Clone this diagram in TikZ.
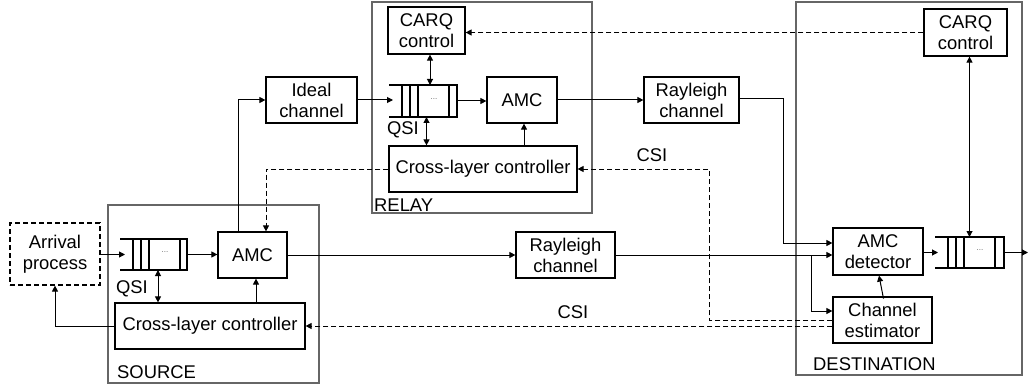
\documentclass[tikz,border=0pt]{standalone}
\usepackage{fontspec}
\setmainfont{Liberation Sans}
\usetikzlibrary{arrows.meta,calc}
\tikzset{
  blk/.style  ={rectangle, draw=black, line width=1.2pt, fill=white, align=center,
                inner sep=0pt, font=\fontsize{18.4}{21}\selectfont},
  dblk/.style ={blk, dashed, dash pattern=on 5pt off 3pt},
  zone/.style ={rectangle, draw=black!60, line width=1.3pt, inner sep=0pt},
  qbox/.style ={rectangle, inner sep=0pt, outer sep=0pt},
  lbl/.style  ={font=\fontsize{18.4}{21}\selectfont, inner sep=0pt},
  arr/.style  ={-{Triangle[length=6pt,width=6pt]}, line width=1pt},
  darr/.style ={arr, dash pattern=on 5pt off 3pt},
  barr/.style ={{Triangle[length=6pt,width=6pt]}-{Triangle[length=6pt,width=6pt]}, line width=1pt},
  ln/.style   ={line width=1pt},
  dln/.style  ={ln, dash pattern=on 5pt off 3pt},
}
% buffer drawn over an empty qbox node
\newcommand{\buffer}[1]{%
  \draw[line width=1.2pt] (#1.north west) -- (#1.north east) -- (#1.south east) -- (#1.south west);
  \foreach \dx in {13,21,29,60}
    \draw[line width=1.2pt] ([xshift=\dx pt]#1.north west) -- ([xshift=\dx pt]#1.south west);
  \node[font=\fontsize{8}{8}\selectfont, text=black!60, inner sep=0pt] at ([xshift=45pt,yshift=2pt]#1.west) {...};
}

\begin{document}
\begin{tikzpicture}[x=1pt, y=-1pt]
  \useasboundingbox (0,0) rectangle (1028,385);

  % zones
  \node[zone, minimum width=211, minimum height=178] (source) at (213.5,294) {};
  \node[zone, minimum width=220, minimum height=211] (relay) at (482,107.5) {};
  \node[zone, minimum width=226, minimum height=373] (dest) at (909,188.5) {};
  \node[lbl, anchor=west] (srclbl) at (117,372) {SOURCE};
  \node[lbl, anchor=west] (rellbl) at (374,205) {RELAY};
  \node[lbl, anchor=west] (dstlbl) at (813,364) {DESTINATION};

  % source
  \node[dblk, minimum width=90, minimum height=62] (arrival) at (55,254) {Arrival\\process};
  \node[qbox, minimum width=67, minimum height=31] (sq) at (153.5,254.5) {};
  \buffer{sq}
  \node[blk, minimum width=69, minimum height=46] (samc) at (252.5,255) {AMC};
  \node[blk, minimum width=190, minimum height=46] (sctl) at (210,326) {Cross-layer controller};
  \node[lbl] (sqsi) at (132,289) {QSI};

  % relay
  \node[blk, minimum width=91, minimum height=46] (ideal) at (311.5,100) {Ideal\\channel};
  \node[blk, minimum width=77, minimum height=47] (rcarq) at (426.5,30.5) {CARQ\\control};
  \node[qbox, minimum width=68, minimum height=32] (rq) at (423,101) {};
  \buffer{rq}
  \node[blk, minimum width=70, minimum height=46] (ramc) at (522,100) {AMC};
  \node[blk, minimum width=188, minimum height=46] (rctl) at (483,169) {Cross-layer controller};
  \node[lbl] (rqsi) at (403,130) {QSI};

  % channels
  \node[blk, minimum width=95, minimum height=46] (ray1) at (691.5,100) {Rayleigh\\channel};
  \node[blk, minimum width=99, minimum height=46] (ray2) at (565.5,255) {Rayleigh\\channel};
  \node[lbl] (csi1) at (652,155) {CSI};
  \node[lbl] (csi2) at (573,312) {CSI};

  % destination
  \node[blk, minimum width=83, minimum height=47] (dcarq) at (965.5,32.5) {CARQ\\control};
  \node[blk, minimum width=90, minimum height=47] (amcd) at (878,251.5) {AMC\\detector};
  \node[blk, minimum width=99, minimum height=46] (chest) at (882.5,320) {Channel\\estimator};
  \node[qbox, minimum width=69, minimum height=31] (dq) at (969.5,252.5) {};
  \buffer{dq}

  \coordinate (tap1) at (783,200);
  \coordinate (tap2) at (811,255);
  \coordinate (cs1) at (709,240);
  \coordinate (out) at (1028,252.5);

  % source links
  \draw[arr] (arrival.east |- sq.west) -- ([xshift=5pt]sq.west);
  \draw[arr] (sq.east) -- (sq.east -| samc.west);
  \draw[barr] ([xshift=4.5pt]sq.south) -- ([xshift=4.5pt]sq.south |- sctl.north);
  \draw[arr] ([xshift=3.5pt]samc.south |- sctl.north) -- ([xshift=3.5pt]samc.south);
  \draw[arr] (sctl.west) -| (arrival.south);
  \draw[arr] ([xshift=-14.5pt]samc.north) |- (ideal.west);
  \draw[arr] (samc.east) -- (samc.east -| ray2.west);

  % relay links
  \draw[arr] (ideal.east) -- ([xshift=4pt]ideal.east -| rq.west);
  \draw[arr] (rq.east) -- (rq.east -| ramc.west);
  \draw[barr] ([xshift=3.5pt]rcarq.south) -- ([xshift=3.5pt]rcarq.south |- rq.north);
  \draw[barr] ([xshift=3.5pt]rq.south) -- ([xshift=3.5pt]rq.south |- rctl.north);
  \draw[arr] ([xshift=2pt]ramc.south |- rctl.north) -- ([xshift=2pt]ramc.south);
  \draw[darr] (rctl.west) -| ([xshift=13.5pt]samc.north);
  \draw[arr] (ramc.east) -- (ramc.east -| ray1.west);

  % destination links
  \draw[ln] ([yshift=1pt]ray1.east) -| (tap1);
  \draw[arr] (tap1) |- ([yshift=8.5pt]amcd.west);
  \draw[arr] (ray2.east) -- (ray2.east -| amcd.west);
  \draw[arr] (tap2) |- ([yshift=9pt]chest.west);
  \draw[arr] ([xshift=1pt]chest.north |- amcd.south) ++(0,23) -- ([xshift=1pt]amcd.south);
  \draw[arr] (amcd.east |- dq.west) -- ([xshift=3pt]dq.west);
  \draw[barr] ([xshift=4pt]dcarq.south) -- ([xshift=4pt]dcarq.south |- dq.north);
  \draw[arr] (dq.east) -- (out);
  \draw[darr] (dcarq.west) -- (dcarq.west -| rcarq.east);
  \draw[dln] (chest.west) -| (cs1);
  \draw[darr] (cs1) |- (rctl.east);
  \draw[darr] (sctl.east -| chest.west) -- (sctl.east);
\end{tikzpicture}
\end{document}
